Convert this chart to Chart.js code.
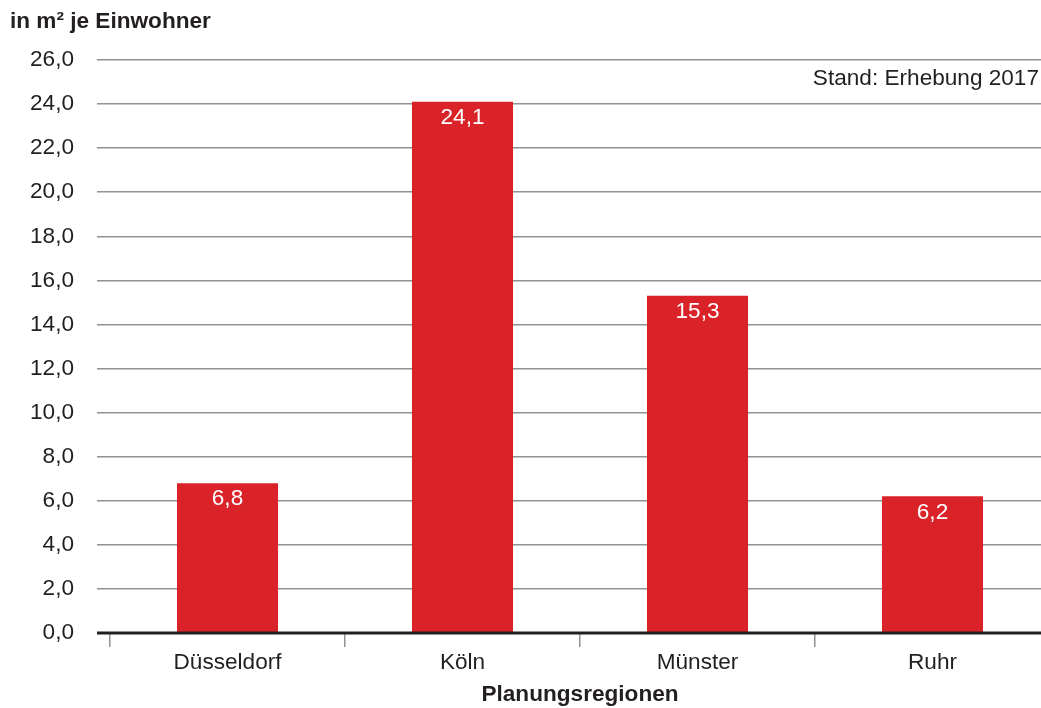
<!DOCTYPE html>
<html lang="de">
<head>
<meta charset="utf-8">
<title>Fläche je Einwohner nach Planungsregionen</title>
<script src="https://cdn.jsdelivr.net/npm/chart.js@4.4.1/dist/chart.umd.min.js"></script>
<style>
  html, body { margin: 0; padding: 0; background: #ffffff; overflow: hidden; }
  #wrap { width: 1041px; height: 708px; overflow: hidden; position: relative; }
  canvas { display: block; }
</style>
</head>
<body>
<div id="wrap"><canvas id="chart" width="1050" height="708"></canvas></div>
<script>
// Planungsregionen and values (m² je Einwohner)
const regions = ["Düsseldorf", "Köln", "Münster", "Ruhr"];
const values = [6.8, 24.1, 15.3, 6.2];

// Axis range and texts
const yMin = 0;
const yMax = 26;
const yStep = 2;
const unitLabel = "in m² je Einwohner";
const axisTitle = "Planungsregionen";
const noteLabel = "Stand: Erhebung 2017";

const FONT = "'Liberation Sans', Arial, Helvetica, sans-serif";
const FS = 22.6;
const TEXT = "#231f20";
const BAR = "#da2329";
const GRID = "#929292";

const fmt = v => Number(v).toFixed(1).replace(".", ",");

// Texts around the plot plus the value labels inside the bars
const annotations = {
  id: "annotations",
  afterDatasetsDraw(chart) {
    const ctx = chart.ctx;
    const area = chart.chartArea;
    const xs = chart.scales.x;
    ctx.save();

    // value labels, white, just below each bar top
    const meta = chart.getDatasetMeta(0);
    ctx.font = FS + "px " + FONT;
    ctx.fillStyle = "#ffffff";
    ctx.textAlign = "center";
    ctx.textBaseline = "middle";
    meta.data.forEach((bar, i) => {
      ctx.fillText(fmt(chart.data.datasets[0].data[i]), bar.x, bar.y + 16);
    });

    // zero baseline on top of the bars
    const y0 = chart.scales.y.getPixelForValue(0);
    ctx.strokeStyle = "#231f20";
    ctx.lineWidth = 3;
    ctx.beginPath();
    ctx.moveTo(area.left - 13, y0);
    ctx.lineTo(chart.width, y0);
    ctx.stroke();

    // unit label, top left
    ctx.fillStyle = TEXT;
    ctx.font = "bold " + FS + "px " + FONT;
    ctx.textAlign = "left";
    ctx.fillText(unitLabel, 10, 22);

    // note, top right
    ctx.font = FS + "px " + FONT;
    ctx.textAlign = "right";
    ctx.fillText(noteLabel, 1039, 79);

    // x axis title
    ctx.font = "bold " + FS + "px " + FONT;
    ctx.textAlign = "center";
    ctx.fillText(axisTitle, (xs.left + xs.right) / 2, 695);

    ctx.restore();
  }
};

new Chart(document.getElementById("chart"), {
  type: "bar",
  data: {
    labels: regions,
    datasets: [{
      data: values,
      backgroundColor: BAR,
      borderWidth: 0,
      categoryPercentage: 1,
      barPercentage: 0.43
    }]
  },
  options: {
    responsive: false,
    animation: false,
    devicePixelRatio: 1,
    layout: { padding: { left: 0, right: 0, top: 60, bottom: 0 } },
    plugins: {
      legend: { display: false },
      tooltip: { enabled: false },
      title: { display: false }
    },
    scales: {
      x: {
        offset: true,
        border: { display: false },
        grid: {
          offset: true,
          drawOnChartArea: false,
          drawTicks: true,
          tickLength: 14,
          color: GRID,
          lineWidth: 1.5
        },
        ticks: {
          color: TEXT,
          font: { family: FONT, size: FS },
          padding: 2,
          maxRotation: 0
        },
        afterFit(scale) { scale.height = 75; }
      },
      y: {
        min: yMin,
        max: yMax,
        border: { display: false },
        grid: {
          color: GRID,
          lineWidth: 1.5,
          drawTicks: true,
          tickLength: 13
        },
        ticks: {
          stepSize: yStep,
          color: TEXT,
          font: { family: FONT, size: FS },
          padding: 23,
          callback: v => fmt(v)
        },
        afterFit(scale) { scale.width = 110; }
      }
    }
  },
  plugins: [annotations]
});
</script>
</body>
</html>
